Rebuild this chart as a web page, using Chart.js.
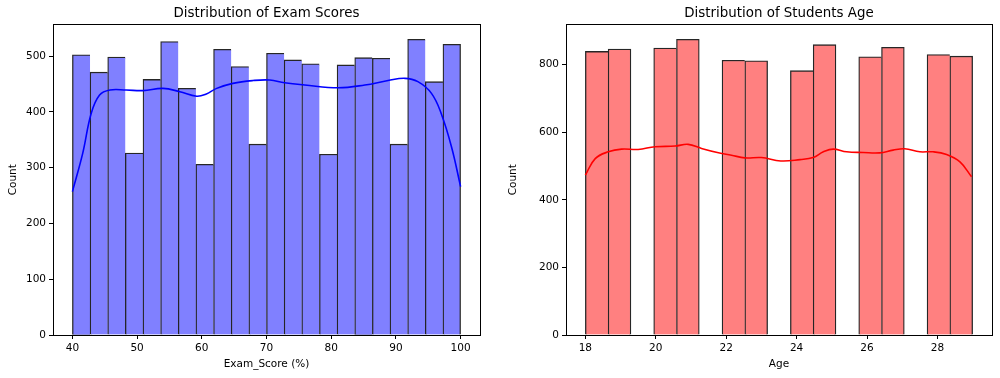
<!DOCTYPE html>
<html>
<head>
<meta charset="utf-8">
<script src="https://cdn.jsdelivr.net/npm/chart.js@4.4.1/dist/chart.umd.min.js"></script>
<style>
  html, body { margin: 0; padding: 0; background: #fff; }
  #wrap { position: relative; width: 1000px; height: 378px; }
  .box { position: absolute; top: 0; width: 500px; height: 378px; }
</style>
</head>
<body>
<div id="wrap">
  <div class="box" style="left:0"><canvas id="c1" width="500" height="378"></canvas></div>
  <div class="box" style="left:500px"><canvas id="c2" width="500" height="378"></canvas></div>
</div>
<script>
// ---------- Data: Exam scores ----------
const scoreRange = [40, 100];
const scoreCounts = [502, 471, 498, 326, 458, 526, 442, 306, 512, 481, 342, 505, 493, 486, 324, 484, 497, 496, 342, 530, 454, 521];
const scoreKdeX = [40, 41.6, 42.9, 44.2, 45.8, 48.3, 50.9, 54.0, 56.6, 59.2, 60.7, 62.3, 64.8, 67.9, 70.5, 72.8, 75.9, 81.1, 85.2, 88.8, 91.4, 93.4, 95.5, 97.0, 98.6, 100];
const scoreKdeY = [257, 326, 397, 430, 439, 439, 438, 442, 436, 428, 432, 442, 451, 456, 457, 452, 448, 443, 448, 456, 460, 454, 433, 397, 337, 266];
const scoreXTicks = [40, 50, 60, 70, 80, 90, 100];
const scoreYTicks = [0, 100, 200, 300, 400, 500];

// ---------- Data: Age ----------
const ageRange = [18, 29];
const ageCounts = [839, 846, 0, 849, 875, 0, 813, 811, 0, 782, 859, 0, 823, 851, 0, 830, 825];
const ageKdeX = [18.0, 18.28, 18.65, 19.03, 19.5, 19.98, 20.55, 20.92, 21.3, 21.78, 22.15, 22.53, 23.0, 23.55, 24.1, 24.47, 24.76, 25.04, 25.42, 25.89, 26.36, 26.74, 27.07, 27.5, 27.88, 28.26, 28.64, 28.97];
const ageKdeY = [473, 522, 542, 550, 549, 557, 559, 564, 552, 539, 532, 524, 525, 515, 519, 525, 542, 550, 542, 540, 539, 547, 551, 542, 542, 534, 512, 468];
const ageXTicks = [18, 20, 22, 24, 26, 28];
const ageYTicks = [0, 200, 400, 600, 800];

const FONT = "'DejaVu Sans', sans-serif";
Chart.defaults.font.family = FONT;
Chart.defaults.color = '#000';

const framePlugin = {
  id: 'frame',
  afterDraw(chart) {
    const a = chart.chartArea, ctx = chart.ctx;
    ctx.save();
    ctx.strokeStyle = '#000';
    ctx.lineWidth = 1;
    ctx.strokeRect(Math.round(a.left) + 0.5, Math.round(a.top) + 0.5, Math.round(a.right - a.left), Math.round(a.bottom - a.top));
    ctx.restore();
  }
};

function makeHist(id, cfg) {
  const n = cfg.counts.length;
  const w = (cfg.range[1] - cfg.range[0]) / n;
  const bars = cfg.counts.map((v, i) => ({ x: cfg.range[0] + w * (i + 0.5), y: v }));
  const kde = cfg.kdeX.map((x, i) => ({ x: x, y: cfg.kdeY[i] }));
  const span = cfg.range[1] - cfg.range[0];
  return new Chart(document.getElementById(id), {
    type: 'bar',
    data: {
      datasets: [
        {
          type: 'line',
          data: kde,
          borderColor: cfg.lineColor,
          borderWidth: 1.6,
          pointRadius: 0,
          tension: 0.4,
          fill: false,
          order: 0
        },
        {
          type: 'bar',
          data: bars,
          backgroundColor: cfg.fill,
          borderColor: 'rgba(0,0,0,0.85)',
          borderSkipped: false,
          borderWidth: (ctx) => {
            const i = ctx.dataIndex;
            const next = cfg.counts[i + 1];
            const right = (i === n - 1 || next === 0) ? 1.3 : 0;
            return { top: 1.3, left: 1.3, right: right, bottom: 0 };
          },
          barPercentage: 1,
          categoryPercentage: 1,
          order: 1
        }
      ]
    },
    options: {
      responsive: false,
      animation: false,
      devicePixelRatio: 1,
      layout: { padding: { left: 0, right: cfg.padRight, top: 0, bottom: 0 } },
      plugins: {
        legend: { display: false },
        tooltip: { enabled: false },
        title: {
          display: true,
          text: cfg.title,
          fullSize: false,
          color: '#000',
          font: { size: 13.4, weight: 'normal', family: FONT },
          padding: { top: 5, bottom: 3.4 }
        }
      },
      scales: {
        x: {
          type: 'linear',
          offset: false,
          min: cfg.range[0] - span * 0.05,
          max: cfg.range[1] + span * 0.05,
          afterBuildTicks: (s) => { s.ticks = cfg.xTicks.map(v => ({ value: v })); },
          afterFit: (s) => { s.height = 43; },
          grid: { display: true, offset: false, drawOnChartArea: false, drawTicks: true, tickLength: 4, color: '#000', tickWidth: 1 },
          border: { display: true, color: '#000', width: 1 },
          ticks: { padding: 3, font: { size: 10.5 }, color: '#000', maxRotation: 0, autoSkip: false },
          title: { display: true, text: cfg.xLabel, font: { size: 10.5 }, color: '#000', padding: { top: 0, bottom: 7.7 } }
        },
        y: {
          type: 'linear',
          min: 0,
          max: cfg.yMax,
          afterBuildTicks: (s) => { s.ticks = cfg.yTicks.map(v => ({ value: v })); },
          afterFit: (s) => { s.width = cfg.yWidth; },
          grid: { display: true, offset: false, drawOnChartArea: false, drawTicks: true, tickLength: 4, color: '#000', tickWidth: 1 },
          border: { display: true, color: '#000', width: 1 },
          ticks: { padding: 3, font: { size: 10.5 }, color: '#000' },
          title: { display: true, text: 'Count', font: { size: 10.5 }, color: '#000', padding: { top: 7, bottom: 0 } }
        }
      }
    },
    plugins: [framePlugin]
  });
}

makeHist('c1', {
  title: 'Distribution of Exam Scores',
  xLabel: 'Exam_Score (%)',
  range: scoreRange,
  counts: scoreCounts,
  kdeX: scoreKdeX,
  kdeY: scoreKdeY,
  xTicks: scoreXTicks,
  yTicks: scoreYTicks,
  yMax: Math.max(...scoreCounts) * 1.05,
  fill: '#8080ff',
  lineColor: '#0000ff',
  yWidth: 53,
  padRight: 20
});

makeHist('c2', {
  title: 'Distribution of Students Age',
  xLabel: 'Age',
  range: ageRange,
  counts: ageCounts,
  kdeX: ageKdeX,
  kdeY: ageKdeY,
  xTicks: ageXTicks,
  yTicks: ageYTicks,
  yMax: Math.max(...ageCounts) * 1.05,
  fill: '#ff8080',
  lineColor: '#ff0000',
  yWidth: 66,
  padRight: 8
});
</script>
</body>
</html>
